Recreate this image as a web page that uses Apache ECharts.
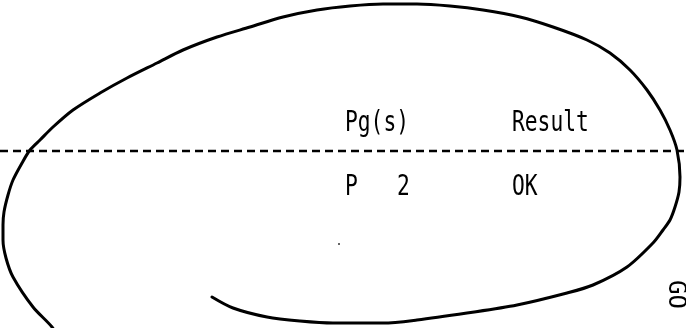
<!DOCTYPE html>
<html>
<head>
<meta charset="utf-8">
<script src="https://cdn.jsdelivr.net/npm/echarts@6/dist/echarts.min.js"></script>
<style>
  html, body { margin: 0; padding: 0; background: #ffffff; }
  #chart { width: 686px; height: 328px; }
</style>
</head>
<body>
<div id="chart"></div>
<script>
// Loop curve (x, y in picture units, y downwards)
const curveX = [60, 52, 33, 13, 6, 3, 3, 4, 8, 13, 22, 30, 40, 53, 73, 100, 127, 157, 183, 217, 250, 283, 317, 350, 383, 417, 450, 483, 520, 553, 587, 610, 630, 647, 660, 670, 677, 680, 679, 675, 670, 663, 653, 627, 593, 567, 517, 467, 417, 383, 333, 300, 267, 233, 212];
const curveY = [340, 327, 307, 277, 258, 240, 225, 212, 195, 180, 163, 150, 140, 127, 110, 93, 78, 63, 50, 37, 27, 17, 10, 6, 4, 4, 6, 10, 17, 27, 40, 53, 70, 90, 110, 130, 150, 177, 192, 207, 220, 230, 243, 267, 285, 293, 305, 313, 320, 323, 323, 321, 317, 308, 297];
// Dashed rule
const ruleX = [0, 686];
const ruleY = [151, 151];
// Stray dot
const dotX = [339];
const dotY = [244];
// Table texts
const headerLabels = ['Pg(s)', 'Result'];
const rowLabels = ['P', '2', 'OK'];
const sideLabel = 'GO';

const pairs = (xs, ys) => xs.map((x, i) => [x, ys[i]]);

const chart = echarts.init(document.getElementById('chart'), null, { renderer: 'canvas' });

const textFont = 'DejaVu Sans Mono';
const fs = 28;
const sx = 0.76;
function label(text, x, y) {
  return {
    type: 'text', x: x, y: y, scaleX: sx, scaleY: 1, silent: true,
    style: { text: text, fill: '#000', font: fs + 'px "' + textFont + '"', align: 'left', verticalAlign: 'middle' }
  };
}

chart.setOption({
  backgroundColor: '#ffffff',
  animation: false,
  grid: { left: 0, right: 0, top: 0, bottom: 0 },
  xAxis: { type: 'value', min: 0, max: 686, show: false },
  yAxis: { type: 'value', min: 0, max: 328, inverse: true, show: false },
  series: [
    {
      type: 'line', data: pairs(ruleX, ruleY), symbol: 'none',
      lineStyle: { color: '#000', width: 2.5, type: [8, 5] }
    },
    {
      type: 'line', data: pairs(curveX, curveY), symbol: 'none', smooth: 0.3,
      lineStyle: { color: '#000', width: 3, cap: 'round', join: 'round' }
    },
    {
      type: 'scatter', data: pairs(dotX, dotY), symbol: 'circle', symbolSize: 2,
      itemStyle: { color: '#000' }
    }
  ],
  graphic: [
    label(headerLabels[0], 345, 124),
    label(headerLabels[1], 512, 124),
    label(rowLabels[0], 345, 188),
    label(rowLabels[1], 397, 188),
    label(rowLabels[2], 512, 188),
    {
      type: 'text', x: 675, y: 280, rotation: -Math.PI / 2, silent: true,
      style: { text: sideLabel, fill: '#000', font: '24px "' + textFont + '"', align: 'left', verticalAlign: 'middle' }
    }
  ]
});
</script>
</body>
</html>
